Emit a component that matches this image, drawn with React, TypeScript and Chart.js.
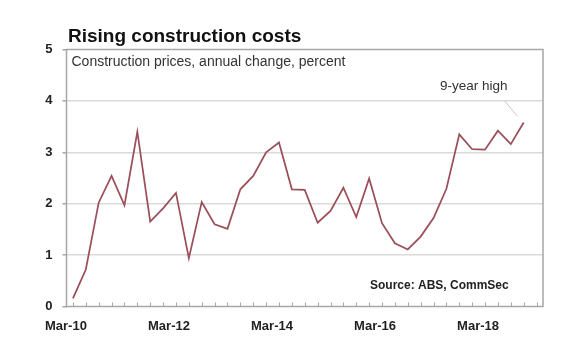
import React, { useEffect, useRef } from 'react';
import { Chart, registerables } from 'chart.js';

Chart.register(...registerables);

const quarters = [
  'Mar-10', 'Jun-10', 'Sep-10', 'Dec-10',
  'Mar-11', 'Jun-11', 'Sep-11', 'Dec-11',
  'Mar-12', 'Jun-12', 'Sep-12', 'Dec-12',
  'Mar-13', 'Jun-13', 'Sep-13', 'Dec-13',
  'Mar-14', 'Jun-14', 'Sep-14', 'Dec-14',
  'Mar-15', 'Jun-15', 'Sep-15', 'Dec-15',
  'Mar-16', 'Jun-16', 'Sep-16', 'Dec-16',
  'Mar-17', 'Jun-17', 'Sep-17', 'Dec-17',
  'Mar-18', 'Jun-18', 'Sep-18', 'Dec-18',
  'Mar-19',
];

const constructionPrices: (number | null)[] = [
  0.16, 0.72, 2.02, 2.54,
  1.97, 3.40, 1.65, 1.91,
  2.21, 0.94, 2.03, 1.60,
  1.51, 2.28, 2.54, 3.00,
  3.19, 2.28, 2.27, 1.63,
  1.86, 2.31, 1.74, 2.49,
  1.62, 1.23, 1.11, 1.36,
  1.72, 2.29, 3.35, 3.06,
  3.05, 3.42, 3.16, 3.58,
  null,
];

const shownTickLabels = ['Mar-10', 'Mar-12', 'Mar-14', 'Mar-16', 'Mar-18'];
const yMin = 0;
const yMax = 5;
const yStep = 1;

const titleText = 'Rising construction costs';
const subtitleText = 'Construction prices, annual change, percent';
const annotationText = '9-year high';
const sourceText = 'Source: ABS, CommSec';

const FONT = 'Arial, "Liberation Sans", Helvetica, sans-serif';

const decorPlugin = {
  id: 'decor',
  afterDraw(chart: any) {
    const { ctx, chartArea } = chart;
    const x = chart.scales.x;
    const y = chart.scales.y;
    ctx.save();
    // frame
    ctx.strokeStyle = '#a6a6a6';
    ctx.lineWidth = 1.5;
    ctx.strokeRect(chartArea.left, chartArea.top, chartArea.right - chartArea.left, chartArea.bottom - chartArea.top);
    // inward tick marks on x axis
    ctx.lineWidth = 1;
    ctx.strokeStyle = '#a6a6a6';
    for (let i = 0; i < quarters.length; i++) {
      const px = Math.round(x.getPixelForValue(i)) + 0.5;
      ctx.beginPath();
      ctx.moveTo(px, chartArea.bottom);
      ctx.lineTo(px, chartArea.bottom - 4);
      ctx.stroke();
    }
    // texts
    ctx.fillStyle = '#111';
    ctx.textBaseline = 'alphabetic';
    ctx.textAlign = 'left';
    ctx.font = `bold 19px ${FONT}`;
    ctx.fillText(titleText, chartArea.left + 1.5, 42);
    ctx.fillStyle = '#333';
    ctx.font = `14px ${FONT}`;
    ctx.fillText(subtitleText, chartArea.left + 5, 66);
    ctx.font = `13.5px ${FONT}`;
    ctx.fillText(annotationText, 440, 90);
    ctx.font = `bold 12px ${FONT}`;
    ctx.fillStyle = '#222';
    ctx.fillText(sourceText, 370, 289);
    // leader line for annotation
    const lastIdx = constructionPrices.length - 2;
    const lx = x.getPixelForValue(lastIdx);
    const ly = y.getPixelForValue(constructionPrices[lastIdx] as number);
    ctx.strokeStyle = '#c8c8c8';
    ctx.lineWidth = 1;
    ctx.beginPath();
    ctx.moveTo(lx - 19, 101);
    ctx.lineTo(lx - 6, ly - 6);
    ctx.stroke();
    ctx.restore();
  },
};

export default function App() {
  const ref = useRef<HTMLCanvasElement | null>(null);
  useEffect(() => {
    document.body.style.margin = '0';
    if (!ref.current) return;
    const chart = new Chart(ref.current, {
      type: 'line',
      data: {
        labels: quarters,
        datasets: [
          {
            data: constructionPrices,
            borderColor: '#9b4f5a',
            borderWidth: 1.75,
            pointRadius: 0,
            tension: 0,
            fill: false,
          },
        ],
      },
      options: {
        animation: false,
        responsive: false,
        layout: { padding: { top: 49.5, right: 37, left: 0, bottom: 0 } },
        plugins: { legend: { display: false }, tooltip: { enabled: false } },
        scales: {
          x: {
            type: 'category',
            offset: true,
            grid: { display: false },
            border: { display: false },
            afterFit: (s: any) => { s.height = 45.5; },
            ticks: {
              autoSkip: false,
              maxRotation: 0,
              minRotation: 0,
              padding: 4,
              labelOffset: -7,
              color: '#222',
              font: { family: FONT, size: 13, weight: 'bold' },
              callback: (_v: any, i: number) => (shownTickLabels.includes(quarters[i]) ? quarters[i] : ''),
            },
          },
          y: {
            min: yMin,
            max: yMax,
            border: { display: false },
            afterFit: (s: any) => { s.width = 66.5; },
            grid: {
              color: (c: any) => (c.tick && (c.tick.value === yMin || c.tick.value === yMax) ? 'rgba(0,0,0,0)' : '#dadada'),
              tickColor: '#a6a6a6',
              tickLength: 4,
              lineWidth: 1.5,
            },
            ticks: {
              stepSize: yStep,
              padding: 10,
              color: '#222',
              font: { family: FONT, size: 13, weight: 'bold' },
            },
          },
        },
      },
      plugins: [decorPlugin],
    });
    return () => chart.destroy();
  }, []);
  return <canvas ref={ref} width={580} height={352} style={{ display: 'block' }} />;
}
